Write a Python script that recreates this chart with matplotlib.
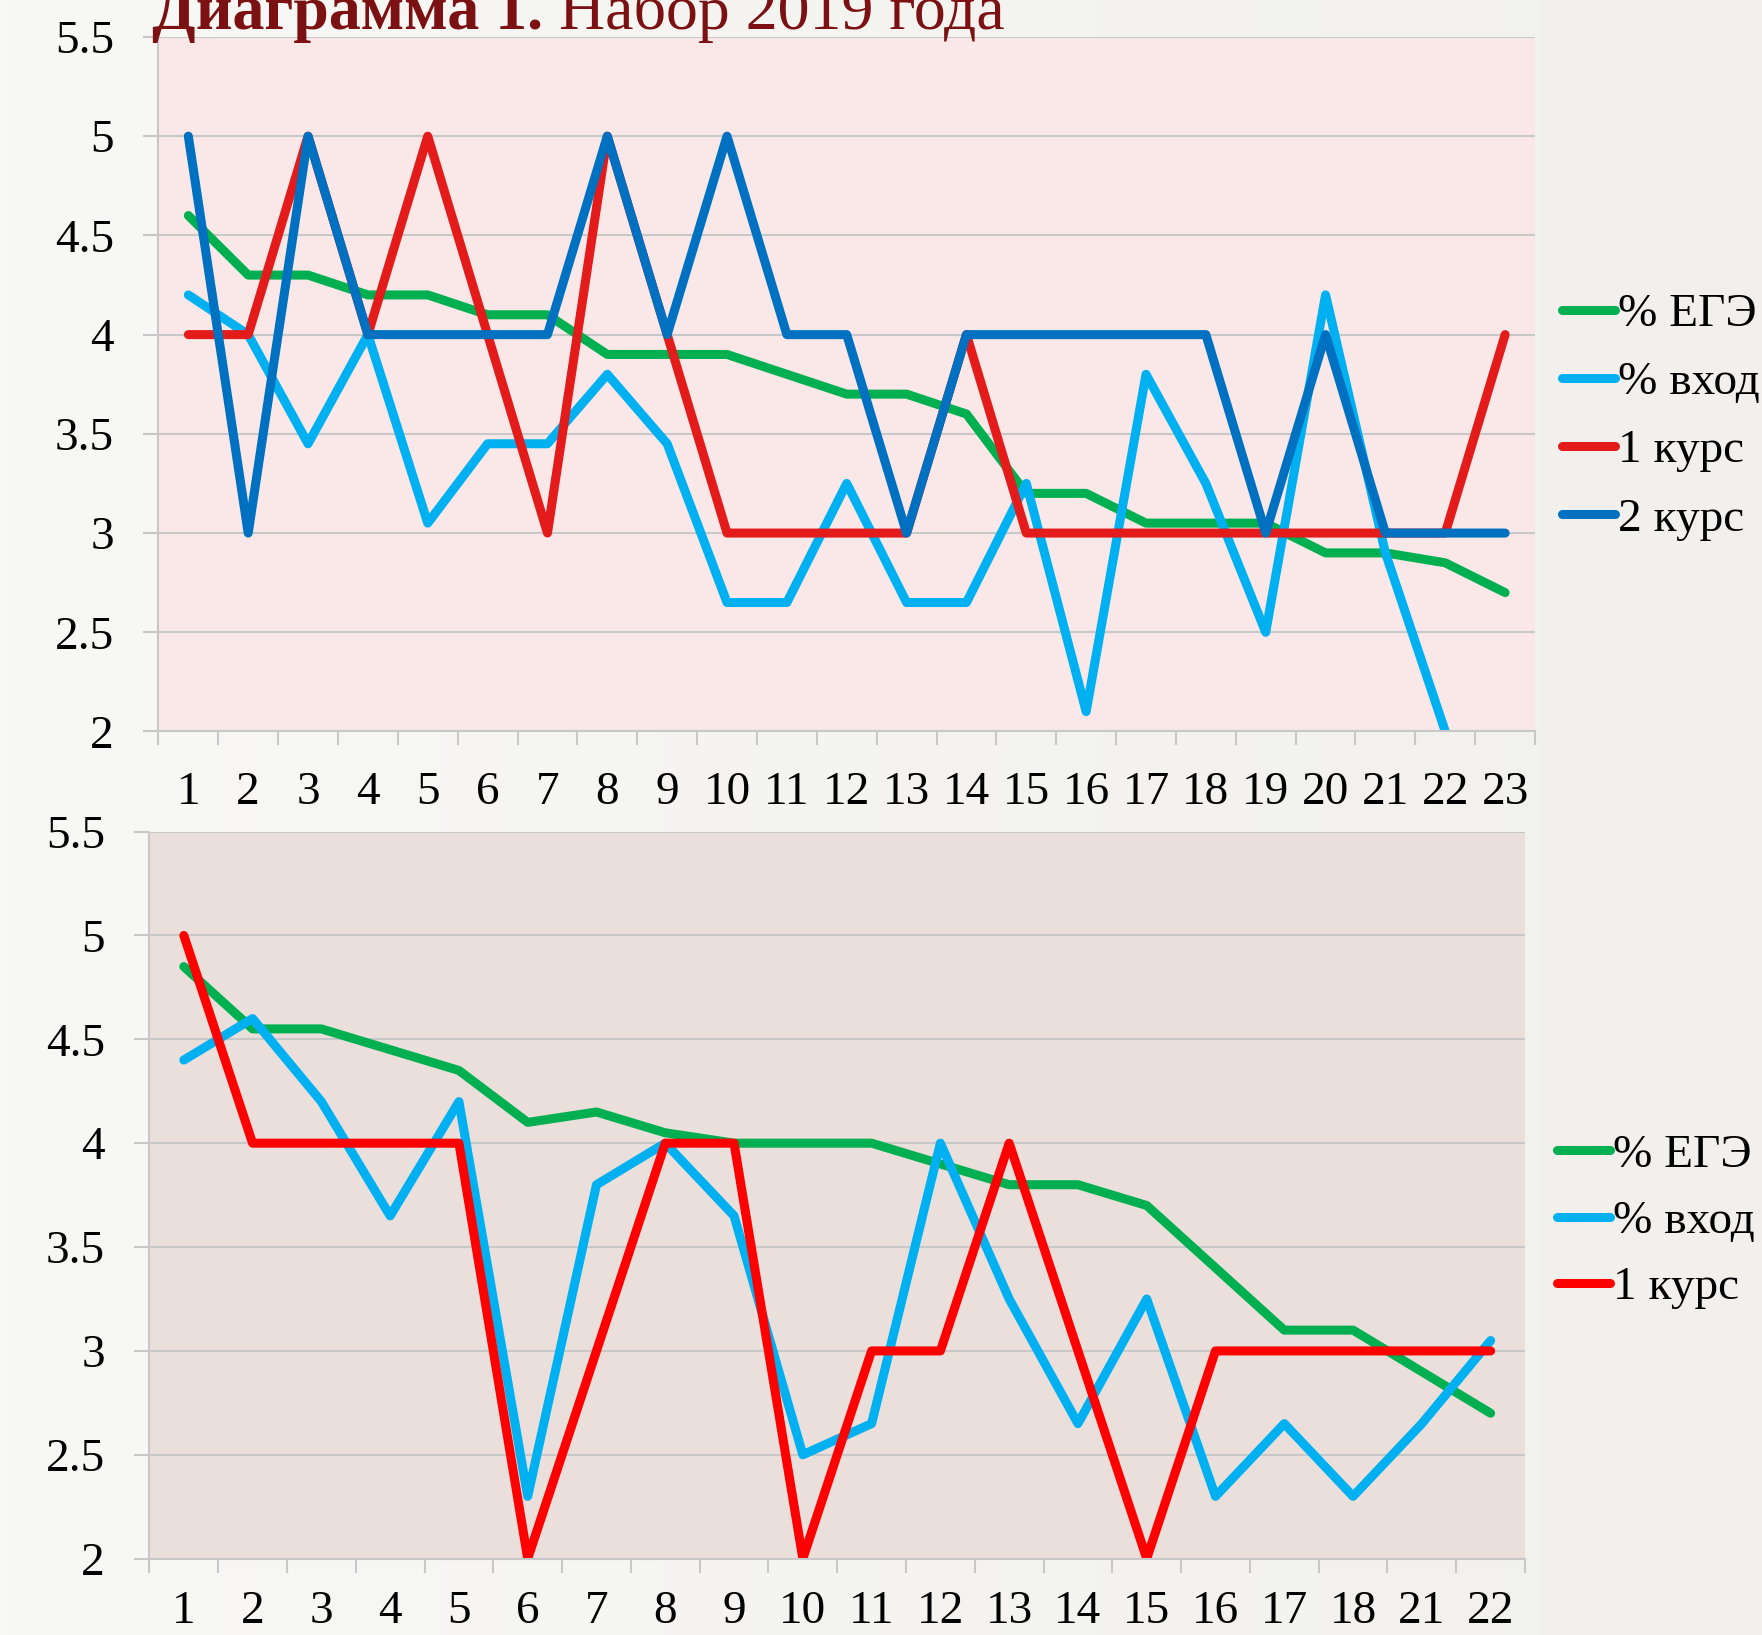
import matplotlib
matplotlib.use("Agg")

import numpy as np
import matplotlib.pyplot as plt
from matplotlib.colors import LinearSegmentedColormap

plt.rcParams["font.family"] = ["Liberation Serif", "DejaVu Serif"]

# top chart: набор 2019, 23 groups
cats_top = [str(i) for i in range(1, 24)]
ege_top = [4.6, 4.3, 4.3, 4.2, 4.2, 4.1, 4.1, 3.9, 3.9, 3.9, 3.8, 3.7,
           3.7, 3.6, 3.2, 3.2, 3.05, 3.05, 3.05, 2.9, 2.9, 2.85, 2.7]
vhod_top = [4.2, 4.0, 3.45, 4.0, 3.05, 3.45, 3.45, 3.8, 3.45, 2.65, 2.65, 3.25,
            2.65, 2.65, 3.25, 2.1, 3.8, 3.25, 2.5, 4.2, 2.9, 2.0, np.nan]
kurs1_top = [4, 4, 5, 4, 5, 4, 3, 5, 4, 3, 3, 3, 3, 4, 3, 3, 3, 3, 3, 3, 3, 3, 4]
kurs2_top = [5, 3, 5, 4, 4, 4, 4, 5, 4, 5, 4, 4, 3, 4, 4, 4, 4, 4, 3, 4, 3, 3, 3]

# bottom chart, 20 groups (19 and 20 are absent)
cats_bot = ["1", "2", "3", "4", "5", "6", "7", "8", "9", "10", "11", "12",
            "13", "14", "15", "16", "17", "18", "21", "22"]
ege_bot = [4.85, 4.55, 4.55, 4.45, 4.35, 4.1, 4.15, 4.05, 4.0, 4.0, 4.0, 3.9,
           3.8, 3.8, 3.7, 3.4, 3.1, 3.1, 2.9, 2.7]
vhod_bot = [4.4, 4.6, 4.2, 3.65, 4.2, 2.3, 3.8, 4.0, 3.65, 2.5, 2.65, 4.0,
            3.25, 2.65, 3.25, 2.3, 2.65, 2.3, 2.65, 3.05]
kurs1_bot = [5, 4, 4, 4, 4, 2, 3, 4, 4, 2, 3, 3, 4, 3, 2, 3, 3, 3, 3, 3]

yticks = [2, 2.5, 3, 3.5, 4, 4.5, 5, 5.5]
ytick_labels = ["2", "2.5", "3", "3.5", "4", "4.5", "5", "5.5"]

c_green = "#00B050"
c_light = "#00B0F0"
c_red_top = "#E31B1B"
c_red_bot = "#FF0000"
c_dark = "#0070C0"
grid_col = "#C8C8C8"
fs = 34

W, H = 1762, 1635
fig = plt.figure(figsize=(W / 100, H / 100), dpi=100)

# slight left-to-right shade of the slide background
bg = fig.add_axes([0, 0, 1, 1], zorder=-10)
grad = np.linspace(0, 1, 256).reshape(1, -1)
cmap_bg = LinearSegmentedColormap.from_list("bg", ["#F8F8F6", "#F1F0EC"])
bg.imshow(grad, aspect="auto", cmap=cmap_bg, extent=[0, 1, 0, 1])
bg.axis("off")


def style_axes(ax, cats, face, xpad):
    n = len(cats)
    x = np.arange(1, n + 1)
    ax.set_facecolor(face)
    ax.set_xlim(0.5, n + 0.5)
    ax.set_ylim(2, 5.5)
    ax.set_yticks(yticks)
    ax.set_yticklabels(ytick_labels, fontsize=fs)
    ax.yaxis.grid(True, color=grid_col, linewidth=1.5)
    ax.set_axisbelow(True)
    # ticks between categories, labels in the middle
    ax.set_xticks(np.arange(0.5, n + 1, 1.0))
    ax.set_xticklabels([])
    ax.set_xticks(x, minor=True)
    ax.set_xticklabels(cats, minor=True, fontsize=fs)
    ax.tick_params(axis="x", which="major", length=10, width=1.5, color=grid_col, direction="out")
    ax.tick_params(axis="x", which="minor", length=0, pad=xpad)
    ax.tick_params(axis="y", length=11, width=1.5, color=grid_col, pad=21)
    for s in ["top", "right"]:
        ax.spines[s].set_visible(False)
    for s in ["left", "bottom"]:
        ax.spines[s].set_color(grid_col)
        ax.spines[s].set_linewidth(1.5)
    return x


def draw(ax, x, y, color, label):
    ax.plot(x, y, color=color, linewidth=6.5, label=label,
            solid_capstyle="round", solid_joinstyle="round")


# top chart
ax1 = fig.add_axes([0.0899, 0.5526, 0.7813, 0.4248])
x1 = style_axes(ax1, cats_top, "#FAE8E8", 29)
draw(ax1, x1, ege_top, c_green, "% ЕГЭ")
draw(ax1, x1, vhod_top, c_light, "% вход")
draw(ax1, x1, kurs1_top, c_red_top, "1 курс")
draw(ax1, x1, kurs2_top, c_dark, "2 курс")
fig.legend(handles=ax1.get_lines(), loc="center left", bbox_to_anchor=(0.8865, 0.745),
           frameon=False, fontsize=fs, handlelength=1.12, handletextpad=0.07,
           labelspacing=0.53, borderpad=0, borderaxespad=0)

# bottom chart
ax2 = fig.add_axes([0.0848, 0.0467, 0.7807, 0.4447])
x2 = style_axes(ax2, cats_bot, "#EADFDB", 23)
draw(ax2, x2, ege_bot, c_green, "% ЕГЭ")
draw(ax2, x2, vhod_bot, c_light, "% вход")
draw(ax2, x2, kurs1_bot, c_red_bot, "1 курс")
fig.legend(handles=ax2.get_lines(), loc="center left", bbox_to_anchor=(0.8838, 0.2529),
           frameon=False, fontsize=fs, handlelength=1.12, handletextpad=0.07,
           labelspacing=0.49, borderpad=0, borderaxespad=0)

# title, partly cut by the top edge as on the slide
title_col = "#7B1113"
base_y = 1 - 29 / H
t1 = fig.text(0.0863, base_y, "Диаграмма 1.", fontsize=46, fontweight="bold",
              color=title_col, ha="left", va="baseline")
r = fig.canvas.get_renderer()
bb = t1.get_window_extent(r)
fig.text(bb.x1 / W, base_y, " Набор 2019 года", fontsize=46,
         color=title_col, ha="left", va="baseline")

fig.savefig("out.png", dpi=100)
